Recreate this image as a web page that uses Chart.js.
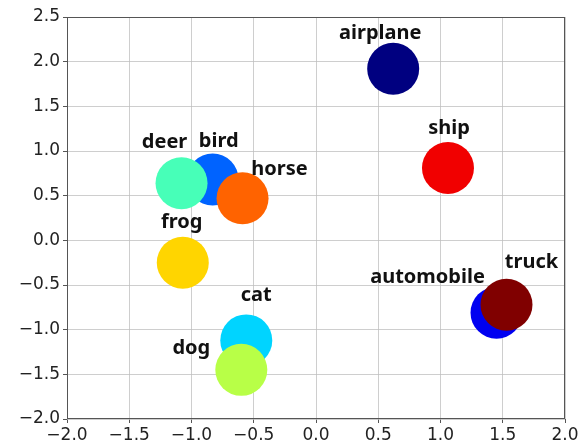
<!DOCTYPE html>
<html>
<head>
<meta charset="utf-8">
<script src="https://cdn.jsdelivr.net/npm/chart.js@4/dist/chart.umd.min.js"></script>
<style>
  html, body { margin: 0; padding: 0; background: #ffffff; }
  #wrap { width: 581px; height: 448px; }
</style>
</head>
<body>
<div id="wrap"><canvas id="c" width="581" height="448"></canvas></div>
<script>
// CIFAR-10 class embeddings in 2-D
const classes = ['airplane', 'automobile', 'bird', 'cat', 'deer', 'dog', 'frog', 'horse', 'ship', 'truck'];
const xValues = [0.62, 1.45, -0.83, -0.56, -1.08, -0.60, -1.07, -0.59, 1.06, 1.53];
const yValues = [1.92, -0.81, 0.68, -1.12, 0.64, -1.45, -0.25, 0.47, 0.81, -0.72];
const xTicks = [-2.0, -1.5, -1.0, -0.5, 0.0, 0.5, 1.0, 1.5, 2.0];
const yTicks = [-2.0, -1.5, -1.0, -0.5, 0.0, 0.5, 1.0, 1.5, 2.0, 2.5];

// jet colormap sampled evenly over the classes
function jet(t) {
  const clip = v => Math.max(0, Math.min(1, v));
  const r = clip(1.5 - Math.abs(4 * t - 3));
  const g = clip(1.5 - Math.abs(4 * t - 2));
  const b = clip(1.5 - Math.abs(4 * t - 1));
  return `rgb(${Math.round(r * 255)},${Math.round(g * 255)},${Math.round(b * 255)})`;
}
const colors = classes.map((_, i) => jet(i / (classes.length - 1)));

// label placement relative to each marker centre (px)
const labelOffsets = {
  airplane: [-13, -36], automobile: [-69, -35], bird: [6, -38], cat: [10, -45],
  deer: [-17, -41], dog: [-50, -22], frog: [-1, -40], horse: [37, -29],
  ship: [1, -40], truck: [25, -42]
};

const fmt = v => (Math.abs(v) < 1e-9 ? 0 : v).toFixed(1).replace('-', '\u2212');

const frame = {
  id: 'frame',
  afterDraw(chart) {
    const { ctx, chartArea: a } = chart;
    ctx.save();
    ctx.strokeStyle = '#555555';
    ctx.lineWidth = 1;
    ctx.strokeRect(Math.round(a.left) + 0.5, Math.round(a.top) + 0.5,
      Math.round(a.right - a.left) - 1, Math.round(a.bottom - a.top) - 1);
    ctx.restore();
  }
};

const pointLabels = {
  id: 'pointLabels',
  afterDraw(chart) {
    const { ctx } = chart;
    const meta = chart.getDatasetMeta(0);
    ctx.save();
    ctx.font = 'bold 20px "Noto Sans", "Liberation Sans", sans-serif';
    ctx.fillStyle = '#111111';
    ctx.textAlign = 'center';
    ctx.textBaseline = 'middle';
    meta.data.forEach((el, i) => {
      const name = classes[i];
      const off = labelOffsets[name] || [0, -40];
      ctx.fillText(name, el.x + off[0], el.y + off[1]);
    });
    ctx.restore();
  }
};

new Chart(document.getElementById('c'), {
  type: 'scatter',
  data: {
    datasets: [{
      data: classes.map((_, i) => ({ x: xValues[i], y: yValues[i] })),
      backgroundColor: colors,
      borderWidth: 0,
      pointRadius: 26,
      pointHoverRadius: 26
    }]
  },
  options: {
    responsive: false,
    animation: false,
    layout: { autoPadding: false, padding: { top: 17, right: 16, left: 0, bottom: 0 } },
    plugins: { legend: { display: false }, tooltip: { enabled: false } },
    scales: {
      x: {
        type: 'linear',
        min: -2, max: 2,
        z: 1,
        afterBuildTicks: s => { s.ticks = xTicks.map(v => ({ value: v })); },
        afterFit: s => { s.height = 29; s.paddingLeft = 0; s.paddingRight = 0; },
        grid: { color: 'rgba(190,190,190,0.75)', lineWidth: 1, tickLength: 4, tickColor: '#555555' },
        border: { display: false },
        ticks: {
          autoSkip: false, maxRotation: 0, padding: 2,
          color: '#222222',
          font: { family: '"DejaVu Sans", sans-serif', size: 17 },
          callback: v => fmt(v)
        }
      },
      y: {
        type: 'linear',
        min: -2, max: 2.5,
        z: 1,
        afterBuildTicks: s => { s.ticks = yTicks.map(v => ({ value: v })); },
        afterFit: s => { s.width = 67; s.paddingTop = 0; s.paddingBottom = 0; },
        grid: { color: 'rgba(190,190,190,0.75)', lineWidth: 1, tickLength: 4, tickColor: '#555555' },
        border: { display: false },
        ticks: {
          autoSkip: false, padding: 3,
          color: '#222222',
          font: { family: '"DejaVu Sans", sans-serif', size: 17 },
          callback: v => fmt(v)
        }
      }
    }
  },
  plugins: [frame, pointLabels]
});
</script>
</body>
</html>
